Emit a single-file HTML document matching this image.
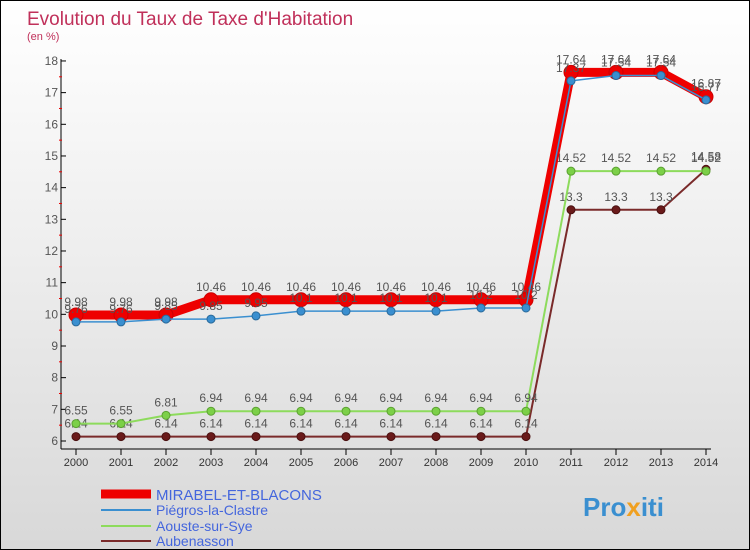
<!DOCTYPE html>
<html><head><meta charset="utf-8"><style>
body{margin:0}
#c{position:relative;width:748px;height:548px;border:1px solid #000;background:linear-gradient(#fff,#f0f0f0 40%,#d8d8d8);overflow:hidden;font-family:"Liberation Sans",sans-serif}
</style></head><body>
<div id="c">
<svg width="748" height="548" id="s">
<text x="26" y="24" font-size="19" fill="#c0305a">Evolution du Taux de Taxe d'Habitation</text>
<text x="26" y="39" font-size="11" fill="#c0305a">(en %)</text>
<g id="axes"></g><g id="series"></g>
<g>
<line x1="100" y1="493" x2="150" y2="493" stroke="#e00" stroke-width="9"/>
<text x="155" y="499" font-size="15" fill="#4466dd">MIRABEL-ET-BLACONS</text>
<line x1="100" y1="509" x2="150" y2="509" stroke="#3a8fd0" stroke-width="2"/>
<text x="155" y="514" font-size="14" fill="#4466dd">Piégros-la-Clastre</text>
<line x1="100" y1="525" x2="150" y2="525" stroke="#8ddb5c" stroke-width="2"/>
<text x="155" y="530" font-size="14" fill="#4466dd">Aouste-sur-Sye</text>
<line x1="100" y1="540" x2="150" y2="540" stroke="#7a2a2a" stroke-width="2"/>
<text x="155" y="545" font-size="14" fill="#4466dd">Aubenasson</text>
</g>
<text x="582" y="515" font-size="26" font-weight="bold" fill="#3a8fd0">Pro<tspan fill="#f0a020">x</tspan>iti</text>
</svg></div>
<script>
const years=[2000,2001,2002,2003,2004,2005,2006,2007,2008,2009,2010,2011,2012,2013,2014];
const mirabel=[9.98,9.98,9.98,10.46,10.46,10.46,10.46,10.46,10.46,10.46,10.46,17.64,17.64,17.64,16.87];
const piegros=[9.76,9.76,9.85,9.85,9.95,10.1,10.1,10.1,10.1,10.2,10.2,17.37,17.54,17.54,16.77];
const aouste=[6.55,6.55,6.81,6.94,6.94,6.94,6.94,6.94,6.94,6.94,6.94,14.52,14.52,14.52,14.52];
const aubenasson=[6.14,6.14,6.14,6.14,6.14,6.14,6.14,6.14,6.14,6.14,6.14,13.3,13.3,13.3,14.58];
const yTicks=[6,7,8,9,10,11,12,13,14,15,16,17,18];
const NS="http://www.w3.org/2000/svg";
const X=i=>75+i*45, Y=v=>440-(v-6)*31.67;
function mk(t,a,p){const e=document.createElementNS(NS,t);for(const k in a)e.setAttribute(k,a[k]);p.appendChild(e);return e;}
const ax=document.getElementById('axes');
const yl=mk('line',{x1:60,y1:58,x2:60,y2:448,stroke:'#000'},ax);


const xl=mk('line',{x1:60,y1:448,x2:710,y2:448,stroke:'#000'},ax);


yTicks.forEach(v=>{
 mk('line',{x1:60,y1:Y(v),x2:65,y2:Y(v),stroke:'#000'},ax);
 if(v<18)mk('line',{x1:58,y1:Y(v+0.5),x2:61,y2:Y(v+0.5),stroke:'#e00'},ax);
 const t=mk('text',{x:57,y:Y(v)+4,'font-size':12,'text-anchor':'end',fill:'#555'},ax);t.textContent=v;
 
 
});
years.forEach((y,i)=>{
 mk('line',{x1:X(i),y1:448,x2:X(i),y2:454,stroke:'#000'},ax);
 const t=mk('text',{x:X(i),y:465,'font-size':11,'text-anchor':'middle',fill:'#333'},ax);t.textContent=y;
 
 
});
const sg=document.getElementById('series');
function series(d,name,col,w,r,dot,stroke){
 const g=mk('g',{},sg);
 
 
 mk('polyline',{points:d.map((v,i)=>X(i)+','+Y(v)).join(' '),fill:'none',stroke:col,'stroke-width':w,'stroke-linejoin':'round'},g);
 d.forEach((v,i)=>{
  const c=mk('circle',{cx:X(i),cy:Y(v),r:r,fill:dot,stroke:stroke,'stroke-width':1},g);
  
  
  const t=mk('text',{x:X(i),y:Y(v)-9,'font-size':12,'text-anchor':'middle',fill:'#555'},g);t.textContent=v;
  
  
 });
}
series(aubenasson,'aubenasson','#7a2a2a',2,4,'#6a1a1a','#4a1010');
series(aouste,'aouste','#8ddb5c',2,4,'#7cd048','#5aa030');
series(mirabel,'mirabel','#e00',9,7,'#e00','#c00');
series(piegros,'piegros','#3a8fd0',1.5,4,'#3a8fd0','#2a6a9a');
</script>
</body></html>
